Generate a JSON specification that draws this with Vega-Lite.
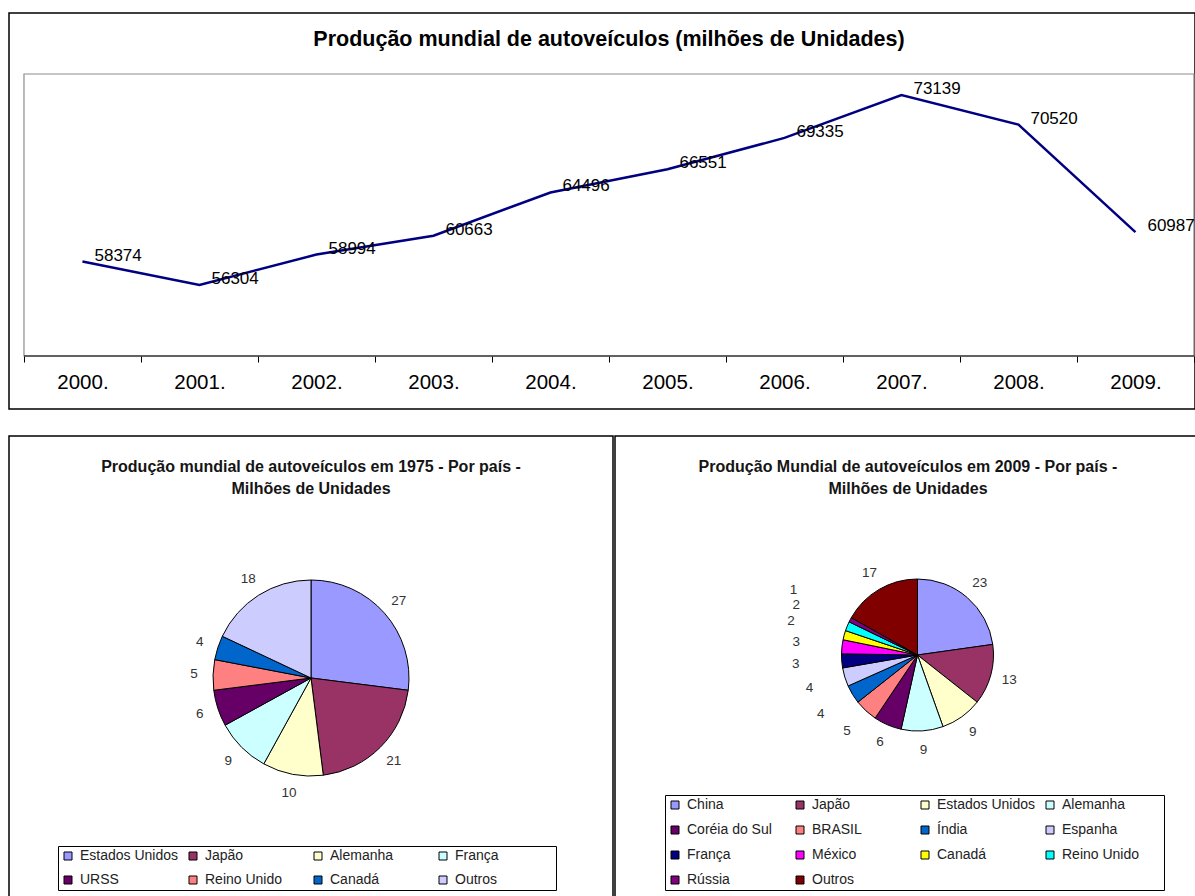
{
  "$schema": "https://vega.github.io/schema/vega-lite/v6.json",
  "padding": {"left": 8, "top": 12, "right": 0, "bottom": 0},
  "background": "white",
  "config": {
    "font": "Liberation Sans",
    "view": {"stroke": "black", "strokeWidth": 1.5}
  },
  "datasets": {
    "prod": [
      {"ano": 2000, "v": 58374},
      {"ano": 2001, "v": 56304},
      {"ano": 2002, "v": 58994},
      {"ano": 2003, "v": 60663},
      {"ano": 2004, "v": 64496},
      {"ano": 2005, "v": 66551},
      {"ano": 2006, "v": 69335},
      {"ano": 2007, "v": 73139},
      {"ano": 2008, "v": 70520},
      {"ano": 2009, "v": 60987}
    ],
    "p1975": [
      {"pais": "Estados Unidos", "v": 27},
      {"pais": "Japão", "v": 21},
      {"pais": "Alemanha", "v": 10},
      {"pais": "França", "v": 9},
      {"pais": "URSS", "v": 6},
      {"pais": "Reino Unido", "v": 5},
      {"pais": "Canadá", "v": 4},
      {"pais": "Outros", "v": 18}
    ],
    "p2009": [
      {"pais": "China", "v": 23},
      {"pais": "Japão", "v": 13},
      {"pais": "Estados Unidos", "v": 9},
      {"pais": "Alemanha", "v": 9},
      {"pais": "Coréia do Sul", "v": 6},
      {"pais": "BRASIL", "v": 5},
      {"pais": "Índia", "v": 4},
      {"pais": "Espanha", "v": 4},
      {"pais": "França", "v": 3},
      {"pais": "México", "v": 3},
      {"pais": "Canadá", "v": 2},
      {"pais": "Reino Unido", "v": 2},
      {"pais": "Rússia", "v": 1},
      {"pais": "Outros", "v": 17}
    ]
  },
  "spacing": 25,
  "vconcat": [
    {
      "width": 1186,
      "height": 396,
      "view": {"stroke": "black", "strokeWidth": 1.5},
      "title": {
        "text": "Produção mundial de autoveículos (milhões de Unidades)",
        "fontSize": 21.5,
        "fontWeight": "bold",
        "color": "black",
        "anchor": "middle",
        "offset": -37,
        "dx": 7
      },
      "layer": [
        {
          "data": {"values": [{}]},
          "mark": {"type": "rect", "fillOpacity": 0, "stroke": "#8c8c8c", "strokeWidth": 1.2},
          "encoding": {
            "x": {"datum": 1999.5, "type": "quantitative", "scale": {"domain": [1999.372, 2009.509], "nice": false, "zero": false},
              "axis": {
                "values": [1999.5, 2000.5, 2001.5, 2002.5, 2003.5, 2004.5, 2005.5, 2006.5, 2007.5, 2008.5, 2009.5],
                "offset": -53,
                "domain": false,
                "grid": false,
                "ticks": true,
                "tickSize": 6,
                "tickColor": "black",
                "tickWidth": 1,
                "labelExpr": "datum.value < 2009 ? format(datum.value + 0.5, 'd') + '.' : ''",
                "labelOffset": 58.5,
                "labelFontSize": 20.5,
                "labelColor": "black",
                "labelPadding": 10,
                "labelOverlap": false,
                "labelFlush": false,
                "labelBound": false,
                "title": null
              }},
            "x2": {"datum": 2009.5},
            "y": {"datum": 50000, "type": "quantitative", "scale": {"domain": [45302, 80408], "nice": false, "zero": false}, "axis": null},
            "y2": {"datum": 75000}
          }
        },
        {
          "data": {"values": [{}]},
          "mark": {"type": "rule", "color": "black", "strokeWidth": 1.2},
          "encoding": {
            "x": {"datum": 1999.5, "type": "quantitative"},
            "x2": {"datum": 2009.5},
            "y": {"datum": 50000, "type": "quantitative"}
          }
        },
        {
          "data": {"name": "prod"},
          "mark": {"type": "line", "color": "#000080", "strokeWidth": 2.5},
          "encoding": {
            "x": {"field": "ano", "type": "quantitative"},
            "y": {"field": "v", "type": "quantitative"}
          }
        },
        {
          "data": {"name": "prod"},
          "mark": {"type": "text", "align": "left", "baseline": "middle", "dx": 12, "dy": -6, "fontSize": 17, "color": "black"},
          "encoding": {
            "x": {"field": "ano", "type": "quantitative"},
            "y": {"field": "v", "type": "quantitative"},
            "text": {"field": "v", "type": "quantitative", "format": "d"}
          }
        }
      ]
    },
    {
      "spacing": 0,
      "resolve": {"scale": {"color": "independent", "theta": "independent", "radius": "independent"}, "legend": {"color": "independent"}},
      "hconcat": [
        {
          "width": 604,
          "height": 462,
          "view": {"stroke": "black", "strokeWidth": 1.5},
          "data": {"name": "p1975"},
          "title": {
            "text": ["Produção mundial de autoveículos em 1975 - Por país -", "Milhões de Unidades"],
            "fontSize": 16,
            "fontWeight": "bold",
            "lineHeight": 22,
            "color": "#151515",
            "anchor": "middle",
            "offset": -61
          },
          "transform": [{"window": [{"op": "row_number", "as": "i"}]}],
          "encoding": {
            "theta": {"field": "v", "type": "quantitative", "stack": true},
            "order": {"field": "i", "type": "quantitative"}
          },
          "layer": [
            {
              "mark": {"type": "arc", "outerRadius": 98, "stroke": "black", "strokeWidth": 1, "yOffset": 11},
              "encoding": {
                "color": {
                  "field": "pais",
                  "type": "nominal",
                  "scale": {
                    "domain": ["Estados Unidos", "Japão", "Alemanha", "França", "URSS", "Reino Unido", "Canadá", "Outros"],
                    "range": ["#9999FF", "#993366", "#FFFFCC", "#CCFFFF", "#660066", "#FF8080", "#0066CC", "#CCCCFF"]
                  },
                  "legend": {
                    "title": " ",
                    "titleOrient": "right",
                    "titlePadding": 54,
                    "orient": "none",
                    "legendX": 49,
                    "legendY": 410,
                    "direction": "horizontal",
                    "columns": 4,
                    "gridAlign": "all",
                    "symbolType": "square",
                    "symbolSize": 64,
                    "symbolStrokeColor": "black",
                    "symbolStrokeWidth": 1,
                    "labelFontSize": 14,
                    "labelOffset": 5,
                    "labelColor": "#222",
                    "labelLimit": 200,
                    "strokeColor": "black",
                    "fillColor": "white",
                    "padding": 3,
                    "columnPadding": 7,
                    "rowPadding": 10
                  }
                }
              }
            },
            {
              "mark": {"type": "text", "radius": 117, "fontSize": 13.5, "color": "#333", "yOffset": 11},
              "encoding": {
                "text": {"field": "v", "type": "quantitative"}
              }
            }
          ]
        },
        {
          "width": 582,
          "height": 462,
          "view": {"stroke": "black", "strokeWidth": 1.5},
          "data": {"name": "p2009"},
          "title": {
            "text": ["Produção Mundial de autoveículos em 2009 - Por país -", "Milhões de Unidades"],
            "fontSize": 16,
            "fontWeight": "bold",
            "lineHeight": 22,
            "color": "#151515",
            "anchor": "middle",
            "offset": -61,
            "dx": 2
          },
          "transform": [{"window": [{"op": "row_number", "as": "i"}]}],
          "encoding": {
            "theta": {"field": "v", "type": "quantitative", "stack": true},
            "order": {"field": "i", "type": "quantitative"}
          },
          "layer": [
            {
              "mark": {"type": "arc", "outerRadius": 76, "stroke": "black", "strokeWidth": 1, "xOffset": 11.5, "yOffset": -12},
              "encoding": {
                "color": {
                  "field": "pais",
                  "type": "nominal",
                  "scale": {
                    "domain": ["China", "Japão", "Estados Unidos", "Alemanha", "Coréia do Sul", "BRASIL", "Índia", "Espanha", "França", "México", "Canadá", "Reino Unido", "Rússia", "Outros"],
                    "range": ["#9999FF", "#993366", "#FFFFCC", "#CCFFFF", "#660066", "#FF8080", "#0066CC", "#CCCCFF", "#000080", "#FF00FF", "#FFFF00", "#00FFFF", "#800080", "#800000"]
                  },
                  "legend": {
                    "title": " ",
                    "titleOrient": "right",
                    "titlePadding": 22,
                    "orient": "none",
                    "legendX": 50,
                    "legendY": 359,
                    "direction": "horizontal",
                    "columns": 4,
                    "gridAlign": "all",
                    "symbolType": "square",
                    "symbolSize": 64,
                    "symbolStrokeColor": "black",
                    "symbolStrokeWidth": 1,
                    "labelFontSize": 14,
                    "labelOffset": 5,
                    "labelColor": "#222",
                    "labelLimit": 200,
                    "strokeColor": "black",
                    "fillColor": "white",
                    "padding": 3,
                    "columnPadding": 7,
                    "rowPadding": 11
                  }
                }
              }
            },
            {
              "mark": {"type": "text", "fontSize": 13.5, "color": "#333", "xOffset": 11.5, "yOffset": -12},
              "encoding": {
                "text": {"field": "v", "type": "quantitative"},
                "radius": {"field": "v", "type": "quantitative", "scale": {"type": "linear", "domain": [1, 6], "range": [140, 95], "clamp": true, "zero": false}}
              }
            }
          ]
        }
      ]
    }
  ]
}
